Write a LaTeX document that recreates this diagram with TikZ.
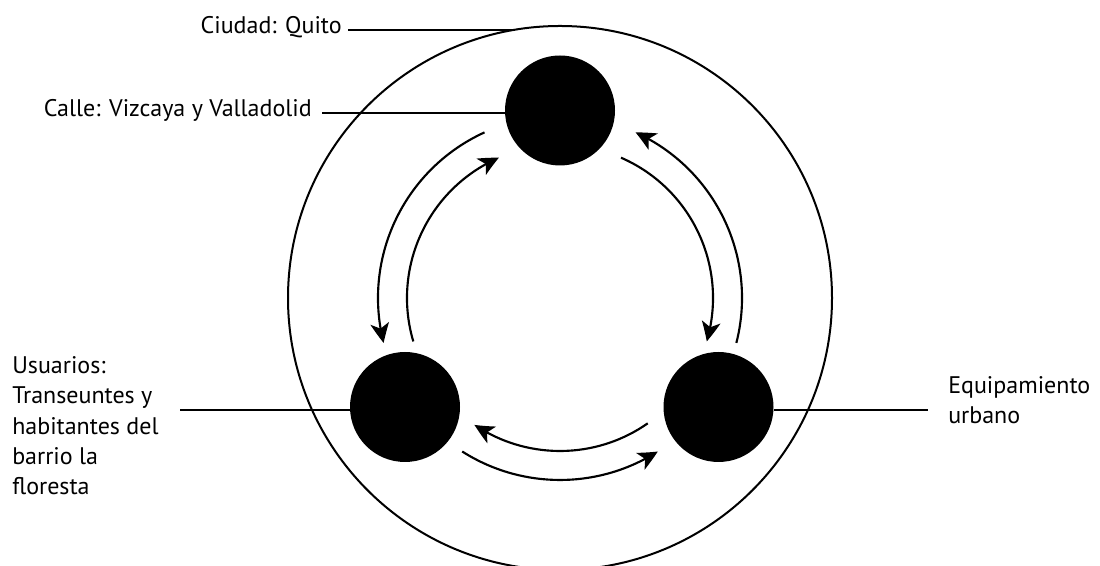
\documentclass[tikz,border=0pt]{standalone}
\usepackage{fontspec}
\setmainfont{PT Sans}
\usetikzlibrary{arrows.meta,bending}
\begin{document}
\begin{tikzpicture}[x=0.75pt,y=0.75pt,
  lbl/.style={font=\fontsize{18}{22.8}\selectfont, inner sep=0pt},
  hub/.style={circle, fill=black, minimum size=82.5pt, inner sep=0pt},
  ln/.style={line width=1.5pt},
  flow/.style={line width=1.6pt, -{Stealth[length=15pt,width=14pt,inset=4pt,bend]}}]
\useasboundingbox (0,0) rectangle (1100,566);
\clip (0,0) rectangle (1100,566);
\coordinate (C) at (560,268);
\draw[ln] (C) circle[radius=272];
% hubs
\node[hub] (T) at (560,455.5) {};
\node[hub] (L) at (405,159) {};
\node[hub] (R) at (718.5,159) {};
% labels
\node[lbl, anchor=base east] (ciudad) at (342,532) {Ciudad: Quito};
\coordinate (cs) at (348,536);
\coordinate (ce) at (513,536);
\draw[ln] (cs) -- (ce);
\node[lbl, anchor=base east] (calle) at (312,449) {Calle: Vizcaya y Valladolid};
\coordinate (ks) at (322,453);
\draw[ln] (ks) -- (ks -| T.west);
\node[lbl, anchor=north west, align=left] (usu) at (12,210) {Usuarios:\\Transeuntes y\\habitantes del\\barrio la\\floresta};
\coordinate (ul) at (180,156);
\draw[ln] (ul) -- (ul -| L.west);
\node[lbl, anchor=north west, align=left] (equ) at (948,190) {Equipamiento\\urbano};
\coordinate (ur) at (928,156);
\draw[ln] (R.east |- ur) -- (ur);
% flows
\draw[flow] ([shift={(114.5:182)}]C) arc[start angle=114.5, end angle=194.3, radius=182];
\draw[flow] ([shift={(196.5:153)}]C) arc[start angle=196.5, end angle=113.5, radius=153];
\draw[flow] ([shift={(-14.3:182)}]C) arc[start angle=-14.3, end angle=65.5, radius=182];
\draw[flow] ([shift={(66.5:153)}]C) arc[start angle=66.5, end angle=-16.5, radius=153];
\draw[flow] ([shift={(-55:153)}]C) arc[start angle=-55, end angle=-124, radius=153];
\draw[flow] ([shift={(237.5:182)}]C) arc[start angle=237.5, end angle=302.5, radius=182];
\end{tikzpicture}
\end{document}
